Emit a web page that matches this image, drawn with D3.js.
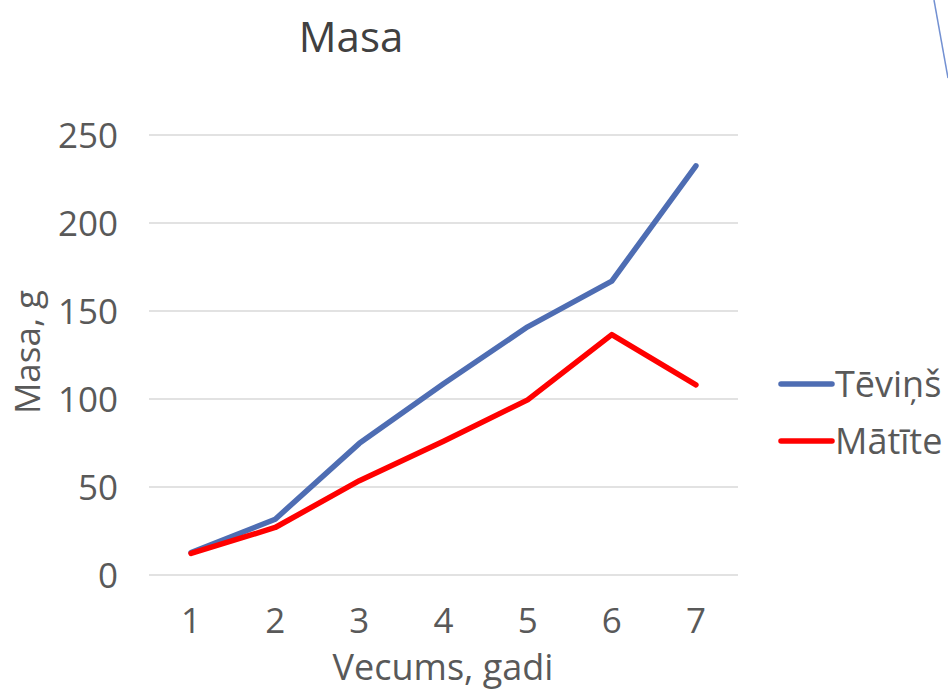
<!DOCTYPE html>
<html><head><meta charset="utf-8">
<script src="https://cdn.jsdelivr.net/npm/d3@7"></script>
<style>body{margin:0;background:#fff}svg{display:block}text{font-family:"Open Sans",sans-serif;fill:#595959}</style>
</head><body>
<svg id="c" width="948" height="692"></svg>
<script>
const categories = ["1","2","3","4","5","6","7"];
const seriesNames = ["Tēviņš","Mātīte"];
const tevins = [12.7,31.7,74.8,108.7,141,167,232.5];
const matite = [12.3,27,53.6,76,99.5,136.6,108];
const yTicks = [0,50,100,150,200,250];
const colors = ["#4E6DB3","#FF0000"];

const svg = d3.select("#c");
const x = d3.scaleBand().domain(categories).range([149,738]);
const y = d3.scaleLinear().domain([0,250]).range([575,135]);

// decorative slide line
svg.append("line").attr("x1",934).attr("y1",0).attr("x2",948).attr("y2",78)
  .attr("stroke","#7391D2").attr("stroke-width",1.5);

// gridlines
svg.append("g").selectAll("line").data(yTicks).join("line")
  .attr("x1",149).attr("x2",738).attr("y1",d=>y(d)).attr("y2",d=>y(d))
  .attr("stroke","#D9D9D9").attr("stroke-width",1.5);

const yAxis = svg.append("g").attr("transform","translate(149,0)")
  .call(d3.axisLeft(y).tickValues(yTicks).tickSize(0));
yAxis.select(".domain").remove();
yAxis.selectAll("text").style("font-size","35px").attr("fill","#595959").attr("dy","0.36em").attr("x",-31);

const xAxis = svg.append("g").attr("transform","translate(0,575)")
  .call(d3.axisBottom(x).tickSize(0));
xAxis.select(".domain").remove();
xAxis.selectAll("text").style("font-size","35px").attr("fill","#595959").attr("y",58).attr("dy",0);

const line = d3.line().x((d,i)=>x(categories[i])+x.bandwidth()/2).y(d=>y(d));
[tevins,matite].forEach((s,k)=>{
  svg.append("path").attr("d",line(s)).attr("fill","none")
    .attr("stroke",colors[k]).attr("stroke-width",5.5)
    .attr("stroke-linecap","round").attr("stroke-linejoin","round");
});

svg.append("text").attr("x",351).attr("y",52).attr("text-anchor","middle")
  .style("font-size","42px").style("fill","#404040").text("Masa");
svg.append("text").attr("x",443).attr("y",680).attr("text-anchor","middle")
  .style("font-size","36px").text("Vecums, gadi");
svg.append("text").attr("transform","translate(40,352) rotate(-90)").attr("text-anchor","middle")
  .style("font-size","35px").text("Masa, g");

// legend
seriesNames.forEach((n,k)=>{
  const ly = 384 + k*57;
  svg.append("line").attr("x1",781).attr("x2",832).attr("y1",ly).attr("y2",ly)
    .attr("stroke",colors[k]).attr("stroke-width",5.5).attr("stroke-linecap","round");
  svg.append("text").attr("x",835).attr("y",ly).attr("dy","0.36em")
    .style("font-size","36px").text(n);
});
</script>
</body></html>
